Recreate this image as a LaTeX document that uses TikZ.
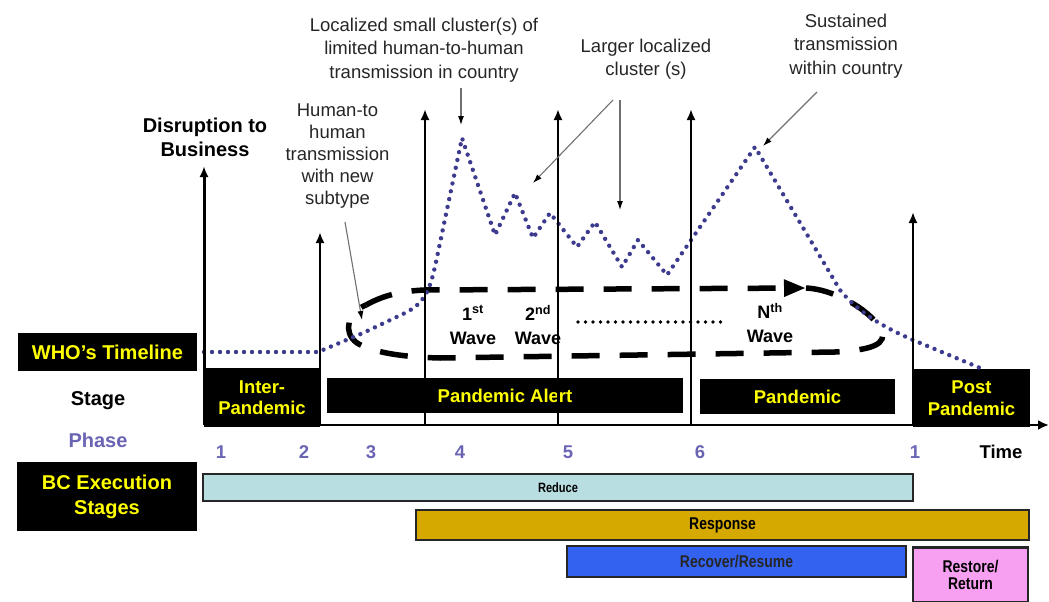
\documentclass[tikz,border=0pt]{standalone}
\usepackage{fontspec}
\setmainfont{Liberation Sans}
\newfontfamily\narrowsans[FakeStretch=0.82]{Liberation Sans}
\usepackage{tikz}
\usetikzlibrary{arrows.meta,positioning}
\definecolor{WhoBlue}{HTML}{3D3B8E}
\definecolor{PhaseBlue}{HTML}{6A64B4}
\definecolor{SignYellow}{HTML}{FFFF00}
\definecolor{ReduceCyan}{HTML}{B9DEE1}
\definecolor{ResponseGold}{HTML}{D5A900}
\definecolor{RecoverBlue}{HTML}{3462F0}
\definecolor{RestorePink}{HTML}{F7A0F2}
\definecolor{NoteGray}{HTML}{707070}

\begin{document}
\begin{tikzpicture}[x=1pt, y=-1pt, >=Latex]
\tikzset{signbox/.style={fill=black, text=SignYellow, font=\bfseries\fontsize{20}{25}\selectfont, align=center, inner sep=0pt}, stagebox/.style={signbox, font=\bfseries\fontsize{18.5}{21.5}\selectfont}, axislabel/.style={font=\bfseries\fontsize{20}{24}\selectfont, align=center}, phasenum/.style={font=\bfseries\fontsize{18.5}{22}\selectfont, text=PhaseBlue}, note/.style={font=\fontsize{18.5}{23.5}\selectfont, align=center, text=black!85}, wave/.style={font=\bfseries\fontsize{18}{24}\selectfont, align=center}, bar/.style={draw=black!85, line width=2.5pt, font=\narrowsans\bfseries\fontsize{17}{17.5}\selectfont, align=center, inner sep=0pt}, uparrow/.style={->, >={Latex[length=11pt,width=9pt]}}, wholine/.style={WhoBlue, line width=4.4pt, line cap=round, line join=round, dash pattern=on 0pt off 8pt}, wavedash/.style={line width=5.5pt, dash pattern=on 28pt off 20pt}, notearrow/.style={NoteGray, line width=1.1pt, -{Latex[length=9pt,width=6pt,color=black]}}}
\useasboundingbox (0,0) rectangle (1049,602);
% left hand labels
\node[signbox, minimum width=179pt, minimum height=38pt] (who) at (107.5,352) {WHO’s Timeline};
\node[axislabel] (stage) at (98,401) {Stage};
\node[axislabel, text=PhaseBlue] (phase) at (98,440) {Phase};
\node[signbox, minimum width=180pt, minimum height=69pt] (bc) at (107,496.5) {BC Execution\\Stages};
% stage boxes
\node[stagebox, minimum width=116pt, minimum height=59pt] (inter) at (262,397.5) {Inter-\\Pandemic};
\node[stagebox, minimum width=356pt, minimum height=35pt] (alert) at (505,395.5) {Pandemic Alert};
\node[stagebox, minimum width=195pt, minimum height=35pt] (pandemic) at (797.5,396.5) {Pandemic};
\node[stagebox, minimum width=117pt, minimum height=58pt] (post) at (971.5,398) {Post\\Pandemic};
% waves
\draw[wavedash, -{Triangle[length=22pt,width=16pt]}] (366,305) .. controls (382,296) and (400,291) .. (425,290) -- (806,288);
\draw[wavedash] (806,288) .. controls (832,289) and (868,308) .. (880,328) .. controls (890,345) and (870,350) .. (835,352) -- (440,358) .. controls (400,357) and (372,352) .. (357,343) .. controls (342,332) and (348,312) .. (366,305);
\node[wave] (w1) at (473,325) {1\textsuperscript{st}\\Wave};
\node[wave] (w2) at (538,325) {2\textsuperscript{nd}\\Wave};
\node[wave] (wn) at (770,323) {N\textsuperscript{th}\\Wave};
\coordinate (gapl) at (578,322);
\coordinate (gapr) at (723,322);
\draw[line width=3.8pt, line cap=round, dash pattern=on 0pt off 7.5pt] (gapl) -- (gapr);
% WHO timeline
\draw[wholine] (204,352) -- (318,352) -- (363,333) -- (405,313) .. controls (425,303) and (430,290) .. (436,262) -- (462,138) -- (495,235) -- (515,193) -- (533,238) -- (550,213) -- (577,247) -- (595,222) -- (622,267) -- (638,240) -- (667,275) -- (755,147) -- (840,290) .. controls (860,315) and (890,330) .. (913,340) -- (985,370);
% axes
\foreach \x/\ytip/\lw/\n in {204/166/3/v1, 320/232/2.5/v2, 425/109/2.3/v3, 558/109/2.5/v4, 691/109/2.3/v5, 913/212/2.1/v6}{
  \coordinate (\n-b) at (\x,425);
  \coordinate (\n-t) at (\x,\ytip);
  \draw[uparrow, line width=\lw pt] (\n-b) -- (\n-t);
}
\coordinate (tend) at (1049,425);
\draw[->, line width=2.8pt, >={Latex[length=11pt,width=10pt]}] (v1-b) -- (tend);
\node[axislabel] (disrupt) at (205,137) {Disruption to\\Business};
\foreach \x/\p in {221/1, 304/2, 371/3, 460/4, 568/5, 700/6, 915/1}
  \node[phasenum] (ph\x) at (\x,452) {\p};
\node[axislabel, font=\bfseries\fontsize{18.5}{22}\selectfont] (time) at (1001,452) {Time};
% BC execution stages
\node[bar, fill=ReduceCyan, minimum width=710pt, minimum height=27pt, font=\narrowsans\bfseries\fontsize{13.5}{15}\selectfont] (reduce) at (558,487.5) {Reduce};
\node[bar, fill=ResponseGold, minimum width=613pt, minimum height=30pt] (response) at (722.5,525) {Response};
\node[bar, fill=RecoverBlue, minimum width=339pt, minimum height=31pt, text=black!85] (recover) at (736.5,561.5) {Recover/Resume};
\node[bar, fill=RestorePink, minimum width=115pt, minimum height=55pt] (restore) at (970.5,575) {Restore/\\Return};
% notes
\node[note] (n1) at (424,50) {Localized small cluster(s) of\\limited human-to-human\\transmission in country};
\node[note] (n2) at (646,59) {Larger localized\\cluster (s)};
\node[note] (n3) at (846,46) {Sustained\\transmission\\within country};
\node[note, font=\fontsize{18.5}{22.2}\selectfont] (n4) at (337.5,156) {Human-to\\human\\transmission\\with new\\subtype};
\coordinate (n1-t) at (461,88);   \coordinate (peak1) at (461,125);
\coordinate (n2-t) at (613,100);  \coordinate (clus1) at (533,183);
\coordinate (n2-u) at (620,100);  \coordinate (clus2) at (620,210);
\coordinate (n3-t) at (817,92);   \coordinate (peakn) at (763,146);
\coordinate (n4-t) at (345,222);  \coordinate (start) at (362,320);
\foreach \a/\b in {n1-t/peak1, n2-t/clus1, n2-u/clus2, n3-t/peakn, n4-t/start}
  \draw[notearrow] (\a) -- (\b);
\end{tikzpicture}
\end{document}
